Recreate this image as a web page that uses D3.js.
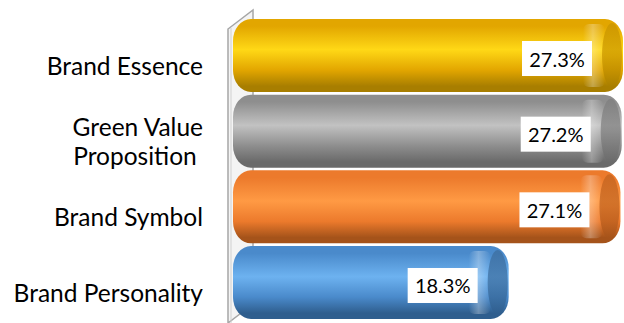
<!DOCTYPE html>
<html>
<head>
<meta charset="utf-8">
<script src="https://cdn.jsdelivr.net/npm/d3@7"></script>
<style>
  body { margin: 0; background: #fff; }
  svg { display: block; }
  text { font-family: Lato, "Open Sans", sans-serif; }
</style>
</head>
<body>
<svg id="chart"></svg>
<script>
// data, top to bottom
const categories = ["Brand Essence", "Green Value Proposition ", "Brand Symbol", "Brand Personality"];
const labelLines = [["Brand Essence"], ["Green Value", "Proposition "], ["Brand Symbol"], ["Brand Personality"]];
const values = [27.3, 27.2, 27.1, 18.3];
const valueLabels = ["27.3%", "27.2%", "27.1%", "18.3%"];

// cylinder colours: [edge, light, dark bottom, cap]
const palette = [
    ["#E2A600", "#FFD816", "#A87E00", "#C89400"],
    ["#8E8E8E", "#C2C2C2", "#6A6A6A", "#7E7E7E"],
    ["#EC7A2C", "#FF9A44", "#A5531A", "#C0621F"],
    ["#4A8ACB", "#6DB2F0", "#2F5E8E", "#3C6C9C"]
];

const width = 624, height = 323;
const svg = d3.select("#chart").attr("width", width).attr("height", height);

// the 3d view starts the bars a bit left of zero, so the domain floor is below 0
const x = d3.scaleLinear().domain([-3.4, 27.3]).range([233, 623]);
const y = d3.scaleBand().domain(categories).range([19, 319]).paddingInner(0.035);

const defs = svg.append("defs");
palette.forEach((c, i) => {
    const g = defs.append("linearGradient").attr("id", "body" + i)
        .attr("x1", 0).attr("y1", 0).attr("x2", 0).attr("y2", 1);
    [[0, c[0]], [0.1, c[0]], [0.42, c[1]], [0.7, c[0]], [0.92, c[2]], [1, c[2]]].forEach(s =>
        g.append("stop").attr("offset", s[0]).attr("stop-color", s[1]));
    const cap = defs.append("linearGradient").attr("id", "cap" + i)
        .attr("x1", 0).attr("y1", 0).attr("x2", 1).attr("y2", 0);
    [[0, "#fff", 0.0], [0.45, "#fff", 0.3], [1, "#fff", 0]].forEach(s =>
        cap.append("stop").attr("offset", s[0]).attr("stop-color", s[1]).attr("stop-opacity", s[2]));
    const end = defs.append("linearGradient").attr("id", "end" + i)
        .attr("x1", 0).attr("y1", 0).attr("x2", 0).attr("y2", 1);
    [[0, c[3]], [0.5, c[3]], [1, c[2]]].forEach(s =>
        end.append("stop").attr("offset", s[0]).attr("stop-color", s[1]));
});

// side wall of the 3d plot
const wx = x.range()[0] - 5, depth = 25;
svg.append("path")
    .attr("d", `M${wx},${height} L${wx},${y.range()[0] + 10} L${wx + depth},${y.range()[0] - 9} L${wx + depth},${height - 19} Z`)
    .attr("fill", "#f4f4f4").attr("stroke", "#a6a6a6").attr("stroke-width", 1.5);
svg.append("line")
    .attr("x1", wx + 3).attr("x2", wx + 3).attr("y1", y.range()[0] + 9).attr("y2", height)
    .attr("stroke", "#d0d0d0").attr("stroke-width", 1);

// cylinder bars
const bars = svg.selectAll("g.bar").data(values).join("g").attr("class", "bar")
    .attr("transform", (d, i) => `translate(0,${y(categories[i])})`);
const h = y.bandwidth(), capR = 10;

bars.append("rect")
    .attr("x", x(-3.4)).attr("y", 0)
    .attr("width", d => x(d) - x(-3.4)).attr("height", h)
    .attr("rx", 18).attr("ry", 22)
    .attr("fill", (d, i) => `url(#body${i})`);
// highlight band near the end of the tube
bars.append("rect")
    .attr("x", d => x(d) - 2 * capR - 20).attr("y", 5)
    .attr("width", 22).attr("height", h - 10)
    .attr("rx", 6)
    .attr("fill", (d, i) => `url(#cap${i})`);
// end cap
bars.append("ellipse")
    .attr("cx", d => x(d) - capR - 1).attr("cy", h / 2)
    .attr("rx", capR).attr("ry", h / 2 - 4)
    .attr("fill", (d, i) => `url(#end${i})`).attr("opacity", 0.7);

// value labels in white boxes
const boxW = 70, boxH = 35;
bars.append("rect")
    .attr("x", d => x(d) - 66 - boxW / 2).attr("y", h / 2 + 3 - boxH / 2)
    .attr("width", boxW).attr("height", boxH).attr("fill", "#fff");
bars.append("text")
    .attr("x", d => x(d) - 66).attr("y", h / 2 + 3)
    .attr("text-anchor", "middle").attr("dominant-baseline", "central")
    .attr("font-size", 20).attr("fill", "#000")
    .text((d, i) => valueLabels[i]);

// category labels
const lineH = 29;
svg.selectAll("text.cat").data(categories).join("text").attr("class", "cat")
    .attr("text-anchor", "end").attr("font-size", 24.5).attr("fill", "#000")
    .style("white-space", "pre")
    .each(function(d, i) {
        const lines = labelLines[i];
        const cy = y(d) + h / 2 + 10;
        d3.select(this).selectAll("tspan").data(lines).join("tspan")
            .attr("x", 203)
            .attr("y", (t, j) => cy + (j - (lines.length - 1) / 2) * lineH)
            .attr("dominant-baseline", "central")
            .text(t => t);
    });
</script>
</body>
</html>
